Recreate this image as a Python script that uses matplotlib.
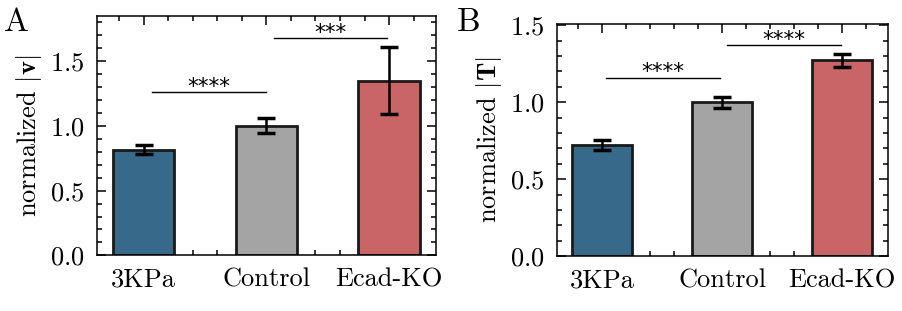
import numpy as np
import matplotlib
matplotlib.use("Agg")
import matplotlib.pyplot as plt
from matplotlib.ticker import AutoMinorLocator

plt.rcParams['font.family'] = 'serif'
plt.rcParams['font.serif'] = ['cmr10']
plt.rcParams['mathtext.fontset'] = 'cm'
plt.rcParams['axes.formatter.use_mathtext'] = True
plt.rcParams['axes.unicode_minus'] = False

categories = ['3KPa', 'Control', 'Ecad-KO']
colors = ['#376a8a', '#a4a4a4', '#c96566']

v_mean = [0.815, 1.0, 1.35]
v_err = [0.035, 0.058, 0.26]
T_mean = [0.722, 1.0, 1.272]
T_err = [0.03, 0.036, 0.042]

# significance brackets: (x start, x end, y, label)
v_sig = [(0.07, 1.0, 1.26, '****'), (1.06, 1.98, 1.68, '***')]
T_sig = [(0.03, 0.98, 1.16, '****'), (1.04, 1.99, 1.37, '****')]

fig = plt.figure(figsize=(9.03, 3.11), dpi=100)
axA = fig.add_axes([0.1074, 0.179, 0.3751, 0.7696])
axB = fig.add_axes([0.6165, 0.1759, 0.3665, 0.7469])


def draw(ax, mean, err, sig, ylabel, ylim):
    x = np.arange(len(categories))
    ax.bar(x, mean, width=0.5, color=colors, edgecolor='#1a1a1a', linewidth=2.0, zorder=2)
    ax.errorbar(x, mean, yerr=err, fmt='none', ecolor='black', elinewidth=1.8,
                capsize=6.5, capthick=2.5, zorder=3)
    for x0, x1, y, lab in sig:
        ax.plot([x0, x1], [y, y], color='black', lw=1.0)
        ax.annotate(lab, ((x0 + x1) / 2, y), xytext=(0, -0.5), textcoords='offset points',
                    ha='center', va='baseline', family='DejaVu Sans', fontsize=15.5)
    ax.set_xticks(x)
    ax.set_xticklabels(categories, fontsize=19)
    ax.set_xlim(-0.38, 2.38)
    ax.set_ylim(*ylim)
    ax.set_yticks([0, 0.5, 1.0, 1.5])
    ax.xaxis.set_minor_locator(AutoMinorLocator(5))
    ax.yaxis.set_minor_locator(AutoMinorLocator(5))
    ax.tick_params(which='both', direction='in', top=True, right=True, labelsize=19)
    ax.tick_params(which='major', length=6.6, width=1.1)
    ax.tick_params(which='minor', length=3.3, width=1.1)
    ax.tick_params(axis='y', which='major', pad=9)
    ax.tick_params(axis='x', which='major', pad=9)
    for s in ax.spines.values():
        s.set_linewidth(1.1)
    ax.set_ylabel(ylabel, fontsize=19, labelpad=4)


draw(axA, v_mean, v_err, v_sig, r'normalized $|\mathbf{v}|$', (0, 1.85))
draw(axB, T_mean, T_err, T_sig, r'normalized $|\mathbf{T}|$', (0, 1.508))

fig.text(0.004, 0.9, 'A', fontsize=24)
fig.text(0.506, 0.9, 'B', fontsize=24)

fig.savefig('out.png', dpi=100)
